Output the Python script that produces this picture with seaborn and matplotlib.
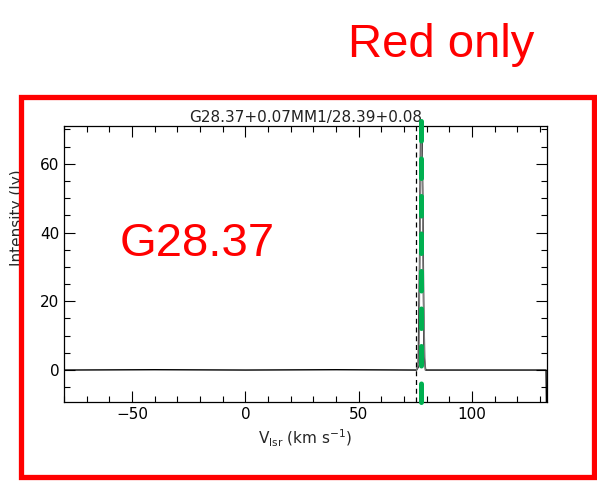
import numpy as np
import matplotlib
matplotlib.use("Agg")
import matplotlib.pyplot as plt
import seaborn as sns
from matplotlib.patches import Rectangle
from matplotlib.ticker import MultipleLocator

# spectrum (km/s, Jy)
velocity = [-80, -40, 0, 40, 75.5, 76.2, 76.8, 77.3, 77.8, 78.3, 78.8, 79.5, 100, 132.6, 132.8]
intensity = [0, 0.1, 0, 0.1, 0, 0.8, 30, 72, 75, 45, 4, 0, 0, 0, -12]
fit_velocity = [75.5, 76.5, 77.0, 77.5, 78.0, 78.5, 79.3]
fit_intensity = [0, 2, 40, 72, 60, 20, 0]

title = "G28.37+0.07MM1/28.39+0.08"
v_dashed = 75.3
v_green = 77.5

sns.set_theme(style="ticks")
plt.rcParams['font.family'] = ['DejaVu Sans']

fig = plt.figure(figsize=(5.97, 4.84), dpi=100)
ax = fig.add_axes([0.1072, 0.1694, 0.809, 0.5703])

sns.lineplot(x=velocity, y=intensity, ax=ax, color="black", linewidth=1.0, sort=False)
sns.lineplot(x=fit_velocity, y=fit_intensity, ax=ax, color="gray", linewidth=1.0, sort=False)

ax.axvline(v_dashed, color="black", linestyle=(0, (4, 3)), linewidth=0.9)
ax.plot([v_green, v_green], [72.5, -9.3], color="#00b050", linewidth=3.6,
        linestyle=(0, (3.9, 3.6)), dash_capstyle="round",
        clip_on=False, zorder=5)

ax.set_xlim(-80, 133)
ax.set_ylim(-9.3, 71)
ax.xaxis.set_major_locator(MultipleLocator(50))
ax.xaxis.set_minor_locator(MultipleLocator(10))
ax.yaxis.set_major_locator(MultipleLocator(20))
ax.yaxis.set_minor_locator(MultipleLocator(5))
ax.tick_params(which="both", direction="in", top=True, right=True, labelsize=11, colors="black")
ax.tick_params(which="major", length=8, width=0.8)
ax.tick_params(which="minor", length=4, width=0.8)
for s in ax.spines.values():
    s.set_linewidth(0.9)
    s.set_color("black")

ax.set_title(title, fontsize=11, pad=3, color="#222222")
ax.set_xlabel(r"V$_{\rm lsr}$ (km s$^{-1}$)", fontsize=11, labelpad=4)
ax.set_ylabel("")
fig.text(0.03, 0.55, "Intensity (Jy)", rotation=90, fontsize=11, ha="center", va="center")

fig.text(0.2, 0.472, "G28.37", color="red", fontsize=34, family="Liberation Sans",
         ha="left", va="baseline")
fig.text(0.583, 0.882, "Red only", color="red", fontsize=34, family="Liberation Sans",
         ha="left", va="baseline")

fig.add_artist(Rectangle((21 / 597, 1 - 477 / 484), (594 - 21) / 597, (477 - 97) / 484,
                         transform=fig.transFigure, fill=False, edgecolor="red",
                         linewidth=3.8, zorder=10))

fig.savefig("out.png", dpi=100)
